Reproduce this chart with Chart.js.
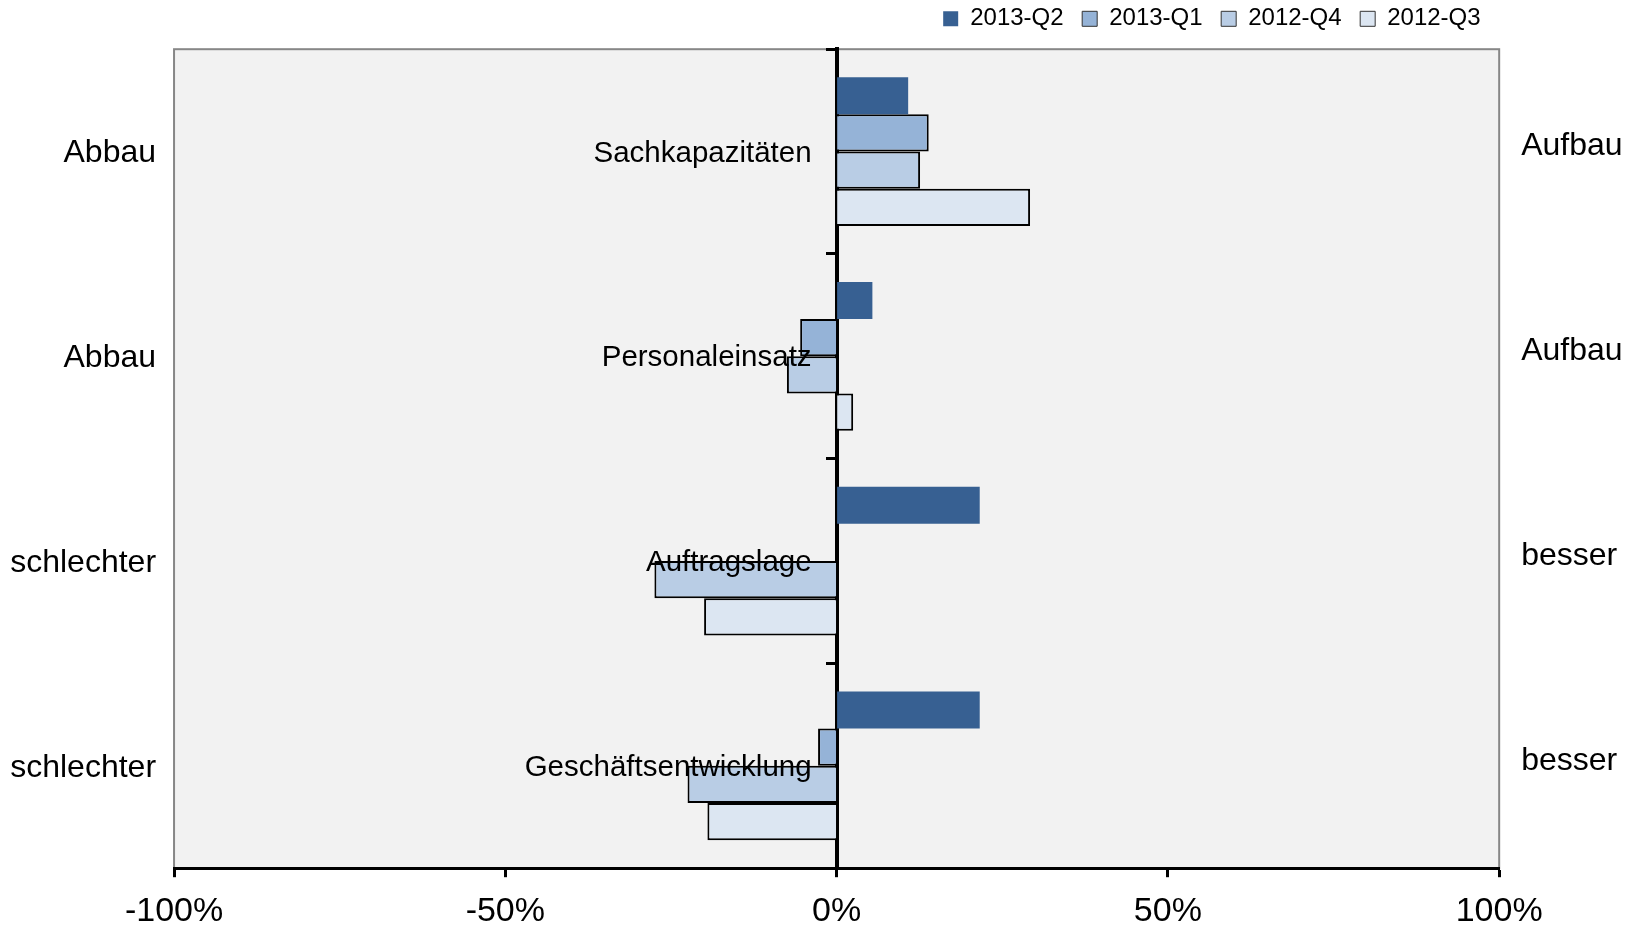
<!DOCTYPE html>
<html lang="de">
<head>
<meta charset="UTF-8">
<title>Geschäftslage im Vergleich</title>
<script src="https://cdn.jsdelivr.net/npm/chart.js"></script>
<style>
  body { margin: 0; background: #fff; }
  #wrap { position: relative; width: 1642px; height: 925px; }
</style>
</head>
<body>
<div id="wrap"><canvas id="chart"></canvas></div>
<script>
// values (percent balance)
const categories = ['Sachkapazitäten', 'Personaleinsatz', 'Auftragslage', 'Geschäftsentwicklung'];
const leftLabels = ['Abbau', 'Abbau', 'schlechter', 'schlechter'];
const rightLabels = ['Aufbau', 'Aufbau', 'besser', 'besser'];
const seriesNames = ['2013-Q2', '2013-Q1', '2012-Q4', '2012-Q3'];
const q2_2013 = [10.8, 5.4, 21.6, 21.6];
const q1_2013 = [13.9, -5.5, 0, -2.8];
const q4_2012 = [12.6, -7.5, -27.5, -22.5];
const q3_2012 = [29.2, 2.5, -20.0, -19.5];
const xTicks = [-100, -50, 0, 50, 100];

const FONT = "'Liberation Sans', Arial, sans-serif";
const seriesColors = ['#376092', '#95b3d7', '#b9cde5', '#dce6f2'];
const seriesBorders = [0, 2, 2, 2];
const seriesData = [q2_2013, q1_2013, q4_2012, q3_2012];

const plotBackground = {
    id: 'plotBackground',
    beforeDraw(chart) {
        const {ctx, chartArea: a} = chart;
        ctx.save();
        ctx.fillStyle = '#f2f2f2';
        ctx.fillRect(a.left, a.top, a.width, a.height);
        ctx.strokeStyle = '#878787';
        ctx.lineWidth = 2;
        ctx.strokeRect(a.left, a.top, a.width, a.height);
        ctx.restore();
    }
};

// category names sit just left of the zero line
const centerLabels = {
    id: 'centerLabels',
    afterDatasetsDraw(chart) {
        const {ctx, scales} = chart;
        const x0 = scales.x.getPixelForValue(0);
        ctx.save();
        ctx.font = '29.5px ' + FONT;
        ctx.fillStyle = '#000';
        ctx.textAlign = 'right';
        ctx.textBaseline = 'middle';
        categories.forEach((c, i) => {
            ctx.fillText(c, x0 - 25, scales.y.getPixelForValue(i) + 2);
        });
        ctx.restore();
    }
};

new Chart(document.getElementById('chart'), {
    type: 'bar',
    data: {
        labels: categories,
        datasets: seriesNames.map((name, i) => ({
            label: name,
            data: seriesData[i],
            backgroundColor: seriesColors[i],
            borderColor: '#000',
            borderWidth: seriesBorders[i],
            categoryPercentage: 0.727,
            barPercentage: 1.0
        }))
    },
    options: {
        indexAxis: 'y',
        responsive: true,
        maintainAspectRatio: false,
        animation: false,
        layout: { padding: { top: -11.8, left: -7.8, right: -2.6, bottom: -21 } },
        plugins: {
            tooltip: { enabled: false },
            // empty title used as a spacer between legend and plot
            title: {
                display: true,
                text: '',
                fullSize: false,
                weight: 500,
                padding: 0,
                font: { size: 7, lineHeight: 1.2 }
            },
            legend: {
                position: 'top',
                align: 'end',
                fullSize: false,
                labels: {
                    boxWidth: 15,
                    boxHeight: 15,
                    padding: 18.6,
                    color: '#000',
                    font: { family: FONT, size: 24 },
                    generateLabels(chart) {
                        const items = Chart.defaults.plugins.legend.labels.generateLabels(chart);
                        items.forEach((it, i) => {
                            it.lineWidth = seriesBorders[i] ? 1 : 0;
                            it.strokeStyle = '#333';
                        });
                        return items;
                    }
                }
            }
        },
        scales: {
            x: {
                type: 'linear',
                min: -100,
                max: 100,
                afterBuildTicks: axis => { axis.ticks = xTicks.map(v => ({ value: v })); },
                grid: {
                    drawOnChartArea: false,
                    drawTicks: true,
                    tickLength: 9,
                    tickColor: '#000',
                    tickWidth: 3
                },
                border: { display: true, color: '#000', width: 3 },
                ticks: {
                    color: '#000',
                    padding: 14,
                    font: { family: FONT, size: 34 },
                    callback: v => v + '%'
                }
            },
            y: {
                type: 'category',
                position: 'left',
                offset: true,
                grid: { display: false, drawTicks: false },
                border: { display: false },
                ticks: {
                    color: '#000',
                    padding: 18,
                    labelOffset: 2,
                    font: { family: FONT, size: 32 },
                    callback: (v, i) => leftLabels[i]
                }
            },
            y2: {
                type: 'category',
                position: 'right',
                labels: rightLabels,
                offset: true,
                grid: { display: false, drawTicks: false },
                border: { display: false },
                ticks: {
                    color: '#000',
                    padding: 22,
                    labelOffset: -5,
                    font: { family: FONT, size: 32 }
                }
            },
            zeroLine: {
                type: 'category',
                axis: 'y',
                position: { x: 0 },
                labels: categories,
                offset: true,
                z: 1,
                grid: {
                    offset: true,
                    drawOnChartArea: false,
                    drawTicks: true,
                    tickLength: 9,
                    color: '#000',
                    lineWidth: 3
                },
                border: { display: true, color: '#000', width: 4 },
                ticks: { display: false }
            }
        }
    },
    plugins: [plotBackground, centerLabels]
});
</script>
</body>
</html>
